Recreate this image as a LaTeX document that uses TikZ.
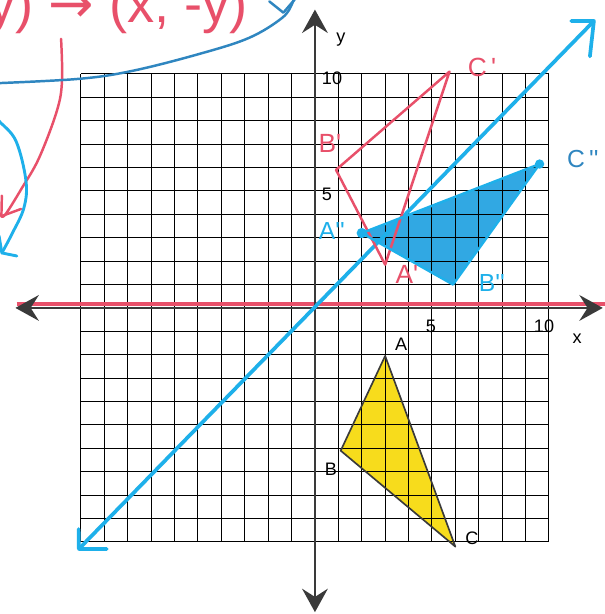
\documentclass[tikz,border=0pt]{standalone}
\usepackage{fontspec}
\setmainfont{Liberation Sans}
\newfontfamily\arrowfont{DejaVu Sans}
\usetikzlibrary{arrows.meta}
\definecolor{axisgray}{HTML}{3A3A3A}
\definecolor{penred}{HTML}{E8506A}
\definecolor{pencyan}{HTML}{1EB0EA}
\definecolor{pendblue}{HTML}{2F86C0}
\definecolor{hiyellow}{HTML}{F7DC1C}
\definecolor{fillblue}{HTML}{1B9FE0}
\newcommand{\pr}{\textquotesingle}
\tikzset{
  gridline/.style={black, line width=1.3pt},
  axisline/.style={axisgray, line width=2.6pt,
    {Stealth[length=1.0cm,width=1.1cm,inset=0.35cm]}-{Stealth[length=1.0cm,width=1.1cm,inset=0.35cm]}},
  ticklabel/.style={font=\fontsize{22}{26}\selectfont, text=black, inner sep=0pt},
  redpen/.style={penred, line width=3pt, line cap=round, line join=round},
  cyanpen/.style={pencyan, line width=4.5pt, line cap=round, line join=round},
  dbluepen/.style={pendblue, line width=3pt, line cap=round, line join=round},
  redlabel/.style={font=\fontsize{32}{36}\selectfont, text=penred, inner sep=0pt},
  bluelabel/.style={font=\fontsize{30}{34}\selectfont, text=pencyan, inner sep=0pt},
}
\begin{document}
\begin{tikzpicture}
\useasboundingbox (-13.46,-13.08) rectangle (12.39,13.16);
\fill[white] (-13.46,-13.08) rectangle (12.39,13.16);

% vertices
\coordinate (A) at (3,-2.05);
\coordinate (B) at (1.1,-6.1);
\coordinate (C) at (6,-10.2);
\coordinate (A1) at (3,1.85);
\coordinate (B1) at (0.9,5.9);
\coordinate (C1) at (5.75,10.1);
\coordinate (A2) at (2,3.2);
\coordinate (B2) at (5.9,1.0);
\coordinate (C2) at (9.6,6.15);

% fills under the grid
\fill[hiyellow] (A) -- (B) -- (C) -- cycle;
\fill[fillblue, opacity=0.9] (A2) -- (B2) -- (C2) -- cycle;

% grid
\draw[gridline] (-10,-10) grid (10,10);

% red reflection line on x-axis
\coordinate (rl) at (-12.75,0.15);
\coordinate (rr) at (12.5,0.15);
\draw[penred, line width=5pt] (rl) -- (rr);

% axes
\coordinate (xl) at (-12.8,0);
\coordinate (xr) at (12.3,0);
\coordinate (yb) at (0,-13.0);
\coordinate (yt) at (0,12.75);
\draw[axisline] (xl) -- (xr);
\draw[axisline] (yb) -- (yt);

% line y = x
\coordinate (dl) at (-10.09,-10.30);
\coordinate (dr) at (11.92,12.26);
\draw[cyanpen] (dl) -- (dr);
\draw[cyanpen] (-10.1,-9.45) -- (dl) -- (-8.9,-10.3);
\draw[cyanpen] (10.95,12.26) -- (dr) -- (11.75,10.75);

% triangles
\draw[axisgray, line width=2pt, line join=round] (A) -- (B) -- (C) -- cycle;
\draw[redpen] (A1) -- (B1) -- (C1) -- cycle;
\draw[pencyan, line width=3pt, line join=round] (A2) -- (B2) -- (C2) -- cycle;
\fill[pencyan] (C2) circle (0.2);
\fill[pencyan] (A2) circle (0.22);

% axis labels
\node[ticklabel] (t5x) at (4.96,-0.77) {5};
\node[ticklabel] (t10x) at (9.79,-0.77) {10};
\node[ticklabel] (lx) at (11.2,-1.3) {x};
\node[ticklabel] (ly) at (1.11,11.45) {y};
\node[ticklabel] (t10y) at (0.73,9.83) {10};
\node[ticklabel] (t5y) at (0.51,4.87) {5};

% vertex labels
\node[ticklabel] (lA) at (3.68,-1.54) {A};
\node[ticklabel] (lB) at (0.68,-6.88) {B};
\node[ticklabel] (lC) at (6.71,-9.83) {C};
\node[redlabel] (lC1) at (7.14,10.26) {C\,\pr};
\node[redlabel] (lB1) at (0.64,7.05) {B\pr};
\node[redlabel] (lA1) at (3.93,1.45) {A\pr};
\node[bluelabel] (lA2) at (0.72,3.3) {A\pr\pr};
\node[bluelabel] (lB2) at (7.56,1.07) {B\pr\pr};
\node[bluelabel, text=pendblue] (lC2) at (11.45,6.37) {C\,\pr\pr};

% rule at the top (cut off)
\node[anchor=base east, inner sep=0pt, text=penred, font=\fontsize{66}{76}\selectfont] (rule) at (-2.85,12.2) {(x,y) {\arrowfont→} (x, -y)};

% curved red arrow
\draw[redpen] plot[smooth, tension=0.6] coordinates {(-10.85,11.50) (-10.81,9.70) (-11.03,8.42) (-11.79,6.41) (-12.52,5.13) (-13.21,4.02) (-13.40,3.92)};
\coordinate (rtip) at (-13.40,3.92);
\draw[redpen] (-13.38,4.80) -- (rtip) -- (-12.56,4.23);

% curved cyan arrow
\draw[cyanpen, line width=3.5pt] plot[smooth, tension=0.6] coordinates {(-13.7,8.3) (-13.5,7.99) (-12.78,7.14) (-12.35,5.43) (-12.44,4.27) (-12.95,3.16) (-13.38,2.35)};
\coordinate (ctip) at (-13.38,2.35);
\draw[cyanpen, line width=3.5pt] (-13.5,3.08) -- (ctip) -- (-12.74,2.22);

% dark blue curve
\draw[dbluepen] plot[smooth, tension=0.6] coordinates {(-13.7,9.6) (-10.09,9.79) (-7.81,10.13) (-4.96,10.85) (-2.82,11.54) (-1.41,12.39) (-0.98,12.99) (-0.9,13.3)};
\coordinate (btip) at (-1.35,12.62);
\draw[dbluepen] (-1.95,13.1) -- (btip) -- (-0.85,13.2);
\end{tikzpicture}
\end{document}
